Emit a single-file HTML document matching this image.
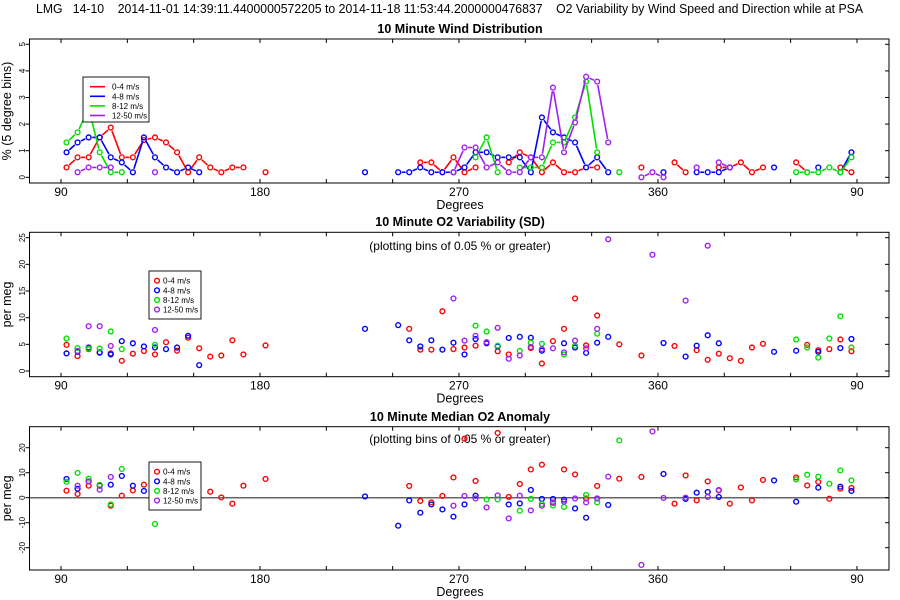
<!DOCTYPE html>
<html><head><meta charset="utf-8"><style>
html,body{margin:0;padding:0;background:#fff;}
svg{display:block;font-family:"Liberation Sans",sans-serif;}
</style></head><body>
<svg id="chart" width="900" height="600" viewBox="0 0 900 600" xmlns="http://www.w3.org/2000/svg">
<rect x="0" y="0" width="900" height="600" fill="#fff"/>
<text x="36" y="13" font-size="12.5" style="white-space:pre" xml:space="preserve" textLength="827" lengthAdjust="spacingAndGlyphs" fill="#000">LMG   14-10    2014-11-01 14:39:11.4400000572205 to 2014-11-18 11:53:44.2000000476837    O2 Variability by Wind Speed and Direction while at PSA</text>
</svg>
<script>
// ---------- DATA ----------
const xTickDegrees = [90, 180, 270, 360, 450];
const xTickLabels = ["90", "180", "270", "360", "90"];
const seriesNames = ["0-4 m/s", "4-8 m/s", "8-12 m/s", "12-50 m/s"];

// Panel 1: wind distribution (%)
const distRedDeg = [92.5,97.5,102.5,107.5,112.5,117.5,122.5,127.5,132.5,137.5,142.5,147.5,152.5,157.5,162.5,167.5,172.5,182.5,252.5,257.5,262.5,267.5,272.5,277.5,292.5,297.5,302.5,307.5,312.5,317.5,322.5,327.5,332.5,352.5,367.5,372.5,387.5,392.5,397.5,402.5,407.5,422.5,427.5,442.5,447.5];
const distRedVal = [0.37,0.75,0.75,1.5,1.87,0.75,0.75,1.4,1.5,1.31,0.94,0.19,0.75,0.37,0.19,0.37,0.37,0.19,0.56,0.56,0.19,0.75,0.19,0.37,0.56,0.94,0.75,0.19,0.56,0.19,0.19,0.37,0.37,0.37,0.56,0.19,0.37,0.37,0.56,0.19,0.37,0.56,0.19,0.37,0.19];
const distBlueDeg = [92.5,97.5,102.5,107.5,112.5,117.5,122.5,127.5,132.5,137.5,142.5,147.5,152.5,227.5,242.5,247.5,252.5,257.5,262.5,267.5,272.5,277.5,282.5,287.5,292.5,297.5,302.5,307.5,312.5,317.5,322.5,327.5,332.5,337.5,362.5,377.5,382.5,387.5,392.5,412.5,432.5,442.5,447.5];
const distBlueVal = [0.94,1.31,1.5,1.5,0.75,0.56,0.19,1.5,0.75,0.37,0.19,0.37,0.19,0.19,0.19,0.19,0.37,0.19,0.19,0.19,0.37,0.94,0.94,0.75,0.75,0.75,0.19,2.25,1.69,1.5,1.31,0.37,0.75,0.19,0.19,0.19,0.19,0.19,0.37,0.37,0.37,0.19,0.94];
const distGreenDeg = [92.5,97.5,102.5,107.5,112.5,117.5,277.5,282.5,287.5,297.5,302.5,307.5,312.5,317.5,322.5,327.5,332.5,342.5,422.5,427.5,432.5,437.5,442.5,447.5];
const distGreenVal = [1.31,1.69,2.6,0.94,0.19,0.19,0.75,1.5,0.19,0.37,0.37,0.37,1.31,1.31,2.25,3.6,0.94,0.19,0.19,0.19,0.19,0.37,0.19,0.75];
const distPurpleDeg = [97.5,102.5,107.5,112.5,132.5,267.5,272.5,277.5,282.5,287.5,292.5,297.5,302.5,307.5,312.5,317.5,322.5,327.5,332.5,337.5,352.5,357.5,362.5,377.5,387.5,392.5];
const distPurpleVal = [0.19,0.37,0.37,0.37,0.19,0.19,1.12,1.12,0.37,0.56,0.19,0.19,0.75,0.75,3.37,0.94,2.06,3.78,3.6,1.31,0,0.19,0,0.37,0.56,0.37];

// Panel 2: O2 variability SD (per meg)
const sdRedDeg = [92.5,97.5,102.5,107.5,112.5,117.5,122.5,127.5,132.5,137.5,142.5,147.5,152.5,157.5,162.5,167.5,172.5,182.5,247.5,252.5,257.5,262.5,267.5,272.5,277.5,287.5,292.5,302.5,307.5,312.5,317.5,322.5,327.5,332.5,342.5,352.5,367.5,377.5,382.5,387.5,392.5,397.5,402.5,407.5,427.5,432.5,437.5,442.5,447.5];
const sdRedVal = [4.9,2.8,4.1,3.4,3.3,1.9,3.25,3.75,3.1,5.4,3.8,6.25,4.25,2.7,2.9,5.75,3.1,4.8,7.9,4.0,4.0,11.2,4.1,4.4,4.75,3.7,3.1,4.3,1.4,5.6,7.9,13.6,4.8,10.4,5.0,2.9,4.7,3.9,2.1,3.25,2.4,1.9,4.4,5.1,4.9,3.9,4.1,5.9,3.7];
const sdBlueDeg = [92.5,97.5,102.5,107.5,112.5,117.5,122.5,127.5,132.5,137.5,142.5,147.5,152.5,227.5,242.5,247.5,252.5,257.5,262.5,267.5,272.5,277.5,282.5,287.5,292.5,297.5,302.5,307.5,317.5,322.5,327.5,332.5,337.5,362.5,372.5,377.5,382.5,387.5,412.5,422.5,432.5,442.5,447.5];
const sdBlueVal = [3.3,3.6,4.4,3.5,3.1,5.6,5.2,4.6,4.4,4.1,4.4,6.6,1.1,7.9,8.6,5.75,4.6,5.75,4.0,5.3,3.1,6.0,5.2,4.6,6.2,6.4,6.25,3.8,5.2,4.4,3.4,5.3,6.4,5.25,2.7,4.75,6.7,5.2,3.6,3.8,3.6,4.3,6.0];
const sdGreenDeg = [92.5,97.5,102.5,107.5,112.5,117.5,132.5,277.5,282.5,287.5,297.5,302.5,307.5,317.5,322.5,332.5,422.5,427.5,432.5,437.5,442.5,447.5];
const sdGreenVal = [6.1,4.3,4.2,4.2,7.4,4.1,4.9,8.5,7.4,4.75,3.75,5.3,5.1,3.1,4.75,7.0,5.9,4.4,2.5,6.1,10.25,4.4];
const sdPurpleDeg = [97.5,102.5,107.5,112.5,132.5,267.5,272.5,277.5,282.5,287.5,292.5,297.5,302.5,307.5,312.5,317.5,322.5,327.5,332.5,337.5,357.5,372.5,382.5];
const sdPurpleVal = [3.75,8.4,8.4,4.7,7.7,13.6,5.7,6.6,5.4,8.1,2.3,2.9,4.5,4.1,4.25,3.5,5.7,4.25,7.9,24.7,21.8,13.2,23.5];

// Panel 3: median O2 anomaly (per meg)
const anRedDeg = [92.5,97.5,102.5,107.5,112.5,117.5,122.5,127.5,157.5,162.5,167.5,172.5,182.5,247.5,252.5,257.5,262.5,267.5,272.5,277.5,287.5,292.5,297.5,302.5,307.5,312.5,317.5,322.5,327.5,332.5,342.5,352.5,367.5,372.5,377.5,382.5,387.5,392.5,397.5,402.5,407.5,422.5,427.5,432.5,437.5,442.5,447.5];
const anRedVal = [2.8,1.5,4.8,5.1,-3.2,0.8,2.9,5.2,2.4,0.1,-2.4,4.8,7.5,4.7,-1.3,-1.9,0.7,8.1,23.6,6.7,25.9,0.3,5.5,11.3,13.2,-1.9,11.3,9.3,-0.3,4.7,7.6,8.3,-2.4,8.9,-1.1,6.5,2.9,-2.4,4.1,-1.1,7.1,8.1,4.9,6.3,-0.4,3.6,3.9];
const anBlueDeg = [92.5,97.5,102.5,107.5,112.5,117.5,122.5,127.5,227.5,242.5,247.5,252.5,257.5,262.5,267.5,272.5,277.5,292.5,297.5,302.5,307.5,312.5,317.5,322.5,327.5,332.5,337.5,362.5,372.5,377.5,382.5,387.5,412.5,422.5,432.5,442.5,447.5];
const anBlueVal = [7.5,3.6,6.5,4.8,5.2,8.7,4.8,2.7,0.5,-11.2,-1.1,-6.0,-2.7,-4.7,-7.6,-2.7,0.8,-2.7,-2.3,3.1,-0.5,-0.5,-0.8,-4.3,-8.0,-0.3,-2.9,9.5,-0.5,2.0,2.3,0.3,6.9,-1.6,4.0,4.4,2.7];
const anGreenDeg = [92.5,97.5,102.5,107.5,112.5,117.5,132.5,282.5,287.5,297.5,302.5,307.5,312.5,317.5,327.5,332.5,342.5,422.5,427.5,432.5,437.5,442.5,447.5];
const anGreenVal = [6.4,9.9,7.6,5.1,-2.7,11.5,-10.5,-0.7,-0.7,-5.2,-0.5,-2.5,-3.1,-3.7,1.1,-1.9,22.9,7.3,9.2,8.4,5.6,10.9,6.9];
const anPurpleDeg = [97.5,102.5,107.5,112.5,267.5,272.5,277.5,282.5,287.5,292.5,297.5,302.5,307.5,312.5,317.5,322.5,327.5,332.5,337.5,352.5,357.5,362.5,372.5,382.5,387.5];
const anPurpleVal = [4.8,6.5,3.2,8.3,-3.2,0.7,-0.3,-3.9,0.9,-8.3,0.8,-5.1,-3.2,-2.1,-1.6,-0.3,-1.9,-0.3,8.4,-26.9,26.5,-0.1,0,0.3,3.1];

const p1YTicks = [0,1,2,3,4,5];
const p2YTicks = [0,5,10,15,20,25];
const p3YTicks = [-20,-10,0,10,20];

// ---------- DRAW ----------
const NS = "http://www.w3.org/2000/svg";
const svg = document.getElementById("chart");
const COLORS = ["#ff0000","#0000ff","#00e000","#a020f0"];
const PL = 29.5, PR = 889;
function xScale(d){ return 61 + (d - 90) * 2.211; }
function mk(tag, attrs, parent){
  const e = document.createElementNS(NS, tag);
  for (const k in attrs) e.setAttribute(k, attrs[k]);
  (parent || svg).appendChild(e);
  return e;
}
function txt(str, attrs, parent){ const t = mk("text", attrs, parent); t.textContent = str; return t; }

function drawPanel(cfg){
  const g = mk("g", {});
  
  
  const y = v => cfg.y0 - v * cfg.k;
  const tt = txt(cfg.title, {x:460, y:cfg.titleY, "font-size":12.5, "font-weight":"bold", "text-anchor":"middle"}, g);
  
  
  if (cfg.subtitle){
    const st = txt(cfg.subtitle, {x:460, y:cfg.subY, "font-size":12, "text-anchor":"middle"}, g);
    
    
  }
  if (cfg.zeroLine){
    const zl = mk("line", {x1:PL, x2:PR, y1:y(0), y2:y(0), stroke:"#666", "stroke-width":1.5}, g);
    
    
  }
  const bx = mk("rect", {x:PL, y:cfg.top, width:PR-PL, height:cfg.bottom-cfg.top, fill:"none", stroke:"#000", "stroke-width":1}, g);
  
  
  for (let d = 90; d <= 450; d += 30){
    const xx = xScale(d);
    mk("line", {x1:xx, x2:xx, y1:cfg.top, y2:cfg.top+4, stroke:"#000"}, g);
    mk("line", {x1:xx, x2:xx, y1:cfg.bottom, y2:cfg.bottom-4, stroke:"#000"}, g);
  }
  xTickDegrees.forEach((d,i) => {
    const t = txt(xTickLabels[i], {x:xScale(d), y:cfg.bottom+13, "font-size":12, "text-anchor":"middle"}, g);
    
    
  });
  const xl = txt("Degrees", {x:460, y:cfg.bottom+26, "font-size":12.5, "text-anchor":"middle"}, g);
  
  
  cfg.yTicks.forEach(v => {
    const yy = y(v);
    mk("line", {x1:PL-4, x2:PL, y1:yy, y2:yy, stroke:"#000"}, g);
    mk("line", {x1:PR-4, x2:PR, y1:yy, y2:yy, stroke:"#000"}, g);
    const t = txt(String(v), {x:0, y:0, "font-size":8, "text-anchor":"middle", transform:`translate(25,${yy}) rotate(-90)`}, g);
    
    
  });
  const yl = txt(cfg.ylabel, {x:0, y:0, "font-size":12.5, "text-anchor":"middle", transform:`translate(11,${(cfg.top+cfg.bottom)/2}) rotate(-90)`}, g);
  
  
  cfg.series.forEach((s, si) => {
    const sg = mk("g", {}, g);
    
    
    const deg = s[0], val = s[1];
    if (cfg.lines){
      for (let i = 1; i < deg.length; i++){
        if (Math.abs(deg[i] - deg[i-1] - 5) > 0.01) continue;
        const x1 = xScale(deg[i-1]), y1 = y(val[i-1]), x2 = xScale(deg[i]), y2 = y(val[i]);
        const L = Math.hypot(x2-x1, y2-y1), gap = 3.6;
        if (L <= 2*gap) continue;
        const ux = (x2-x1)/L, uy = (y2-y1)/L;
        const ln = mk("line", {x1:x1+ux*gap, y1:y1+uy*gap, x2:x2-ux*gap, y2:y2-uy*gap, stroke:COLORS[si], "stroke-width":1.6}, sg);
        
        
      }
    }
    deg.forEach((d, i) => {
      const c = mk("circle", {cx:xScale(d), cy:y(val[i]), r:2.4, fill:"none", stroke:COLORS[si], "stroke-width":1.4}, sg);
      
      
    });
  });
  const L = cfg.legend;
  const lg = mk("g", {}, g);
  
  
  mk("rect", {x:L.x, y:L.y, width:L.w, height:L.h, fill:"#fff", stroke:"#000", "stroke-width":0.9}, lg);
  seriesNames.forEach((n, i) => {
    const ry = L.y + 9.7 + i * 9.6;
    const eg = mk("g", {}, lg);
    
    
    if (cfg.lines) mk("line", {x1:L.x+7, x2:L.x+22, y1:ry, y2:ry, stroke:COLORS[i], "stroke-width":1.6}, eg);
    else mk("circle", {cx:L.x+8, cy:ry, r:2.4, fill:"none", stroke:COLORS[i], "stroke-width":1.4}, eg);
    const lt = txt(n, {x:L.x + (cfg.lines ? 29 : 14), y:ry+3, "font-size":8.5}, eg);
    lt.setAttribute('textLength', String(n.length * 3.9));
    lt.setAttribute('lengthAdjust', 'spacingAndGlyphs');
  });
}

drawPanel({name:"wind-distribution-panel", title:"10 Minute Wind Distribution", titleY:33,
  top:39, bottom:183, y0:177.3, k:26.6, yTicks:p1YTicks, ylabel:"% (5 degree bins)", lines:true,
  legend:{x:83, y:77, w:66, h:45},
  series:[[distRedDeg,distRedVal],[distBlueDeg,distBlueVal],[distGreenDeg,distGreenVal],[distPurpleDeg,distPurpleVal]]});
drawPanel({name:"o2-variability-panel", title:"10 Minute O2 Variability (SD)", titleY:226, subtitle:"(plotting bins of 0.05 % or greater)", subY:250,
  top:232.3, bottom:376.7, y0:371, k:5.333, yTicks:p2YTicks, ylabel:"per meg", lines:false,
  legend:{x:149, y:271, w:52, h:48},
  series:[[sdRedDeg,sdRedVal],[sdBlueDeg,sdBlueVal],[sdGreenDeg,sdGreenVal],[sdPurpleDeg,sdPurpleVal]]});
drawPanel({name:"o2-anomaly-panel", title:"10 Minute Median O2 Anomaly", titleY:421, subtitle:"(plotting bins of 0.05 % or greater)", subY:443,
  top:426.7, bottom:570, y0:497.7, k:2.5, yTicks:p3YTicks, ylabel:"per meg", lines:false, zeroLine:true,
  legend:{x:149, y:462, w:52, h:48},
  series:[[anRedDeg,anRedVal],[anBlueDeg,anBlueVal],[anGreenDeg,anGreenVal],[anPurpleDeg,anPurpleVal]]});
</script>
</body></html>
